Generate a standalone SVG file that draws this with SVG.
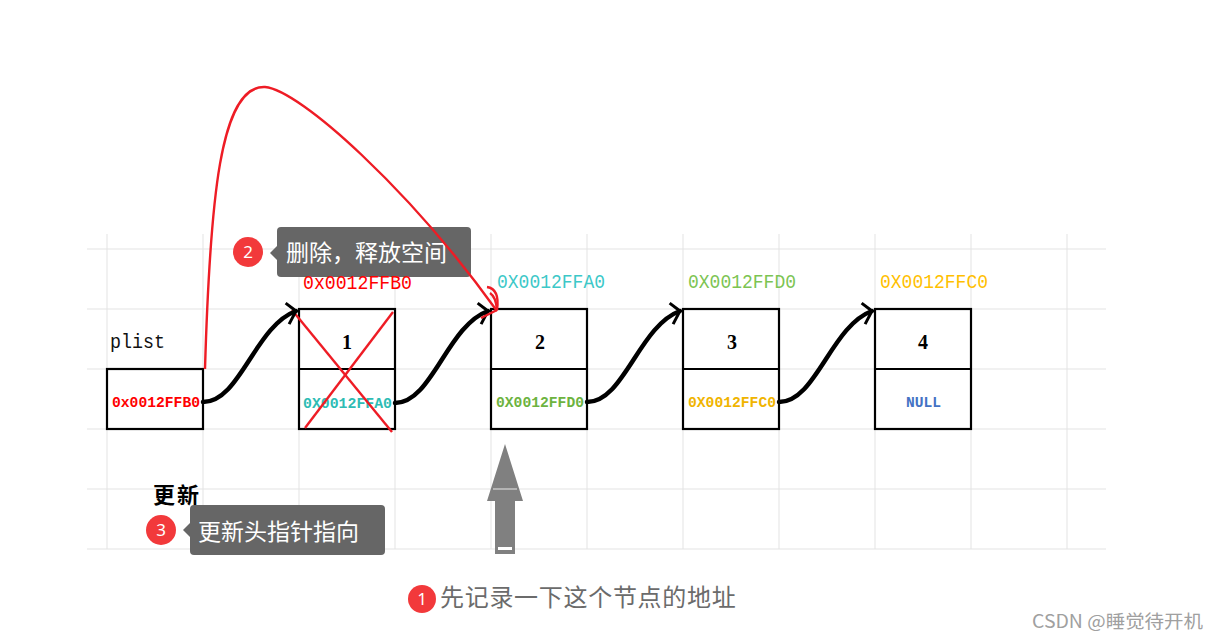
<svg xmlns="http://www.w3.org/2000/svg" width="1218" height="640" viewBox="0 0 1218 640">
<defs>
<style>
.grid line{stroke:#e3e3e3;stroke-width:1}
.box{fill:#fff;stroke:#000;stroke-width:2.2}
.div{stroke:#000;stroke-width:2.2}
.addr{font-family:"Liberation Mono",monospace;font-size:20px}
.inner{font-family:"Liberation Mono",monospace;font-size:15px;font-weight:bold}
.num{font-family:"Liberation Serif",serif;font-size:20px;font-weight:bold;fill:#000;text-anchor:middle}
.link{fill:none;stroke:#000;stroke-width:4.5;stroke-linecap:round}
.red{fill:none;stroke:#ee1c25;stroke-width:2.4}
.tip{fill:#666}
.tiptext{font-family:"Noto Sans CJK SC","Noto Sans",sans-serif;font-size:23px;fill:#fff}
.badge{fill:#f2393b}
.badgetext{font-family:"Noto Sans","Liberation Sans",sans-serif;font-size:17px;fill:#fff;text-anchor:middle}
</style>
<marker id="chev" markerUnits="userSpaceOnUse" markerWidth="30" markerHeight="30" refX="0" refY="0" viewBox="-15 -15 30 30" orient="auto" overflow="visible">
<path d="M-7,-11 L0,0 L-11,10" fill="none" stroke="#000" stroke-width="3"/>
</marker>
</defs>
<rect width="1218" height="640" fill="#fff"/>
<g class="grid" id="grid">
<line x1="87" y1="249" x2="1106" y2="249"/>
<line x1="87" y1="309" x2="1106" y2="309"/>
<line x1="87" y1="369" x2="1106" y2="369"/>
<line x1="87" y1="429" x2="1106" y2="429"/>
<line x1="87" y1="489" x2="1106" y2="489"/>
<line x1="87" y1="549" x2="1106" y2="549"/>
<line x1="107" y1="234" x2="107" y2="549"/>
<line x1="203" y1="234" x2="203" y2="549"/>
<line x1="299" y1="234" x2="299" y2="549"/>
<line x1="395" y1="234" x2="395" y2="549"/>
<line x1="491" y1="234" x2="491" y2="549"/>
<line x1="587" y1="234" x2="587" y2="549"/>
<line x1="683" y1="234" x2="683" y2="549"/>
<line x1="779" y1="234" x2="779" y2="549"/>
<line x1="875" y1="234" x2="875" y2="549"/>
<line x1="971" y1="234" x2="971" y2="549"/>
<line x1="1067" y1="234" x2="1067" y2="549"/>
</g>
<g id="tip2">
<rect x="277" y="227" width="194" height="50" rx="4" class="tip"/>
<path d="M270,253 L277,246 L277,260 Z" class="tip"/>
<text x="286" y="261" class="tiptext">删除，释放空间</text>
<circle cx="248" cy="252" r="15" class="badge"/>
<text x="248" y="258" class="badgetext">2</text>
</g>
<g id="plist">
<text x="110" y="348" class="addr" fill="#111" textLength="55" lengthAdjust="spacingAndGlyphs">plist</text>
<rect x="107" y="369" width="96" height="60" class="box"/>
<text x="112" y="407" class="inner" fill="#f00" textLength="88" lengthAdjust="spacingAndGlyphs">0x0012FFB0</text>
</g>
<g id="node1">
<text x="303" y="289" class="addr" fill="#f00" textLength="109" lengthAdjust="spacingAndGlyphs">0x0012FFB0</text>
<rect x="299" y="309" width="96" height="120" class="box"/>
<line x1="299" y1="369" x2="395" y2="369" class="div"/>
<text x="347" y="349" class="num">1</text>
<text x="303" y="408" class="inner" fill="#2ebcb4" textLength="89" lengthAdjust="spacingAndGlyphs">0X0012FFA0</text>
<line x1="292" y1="310" x2="392" y2="432" class="red"/>
<line x1="393" y1="312" x2="305" y2="428" class="red"/>
</g>
<g id="node2">
<text x="497" y="288" class="addr" fill="#3cc8c8" textLength="108" lengthAdjust="spacingAndGlyphs">0X0012FFA0</text>
<rect x="491" y="309" width="96" height="120" class="box"/>
<line x1="491" y1="369" x2="587" y2="369" class="div"/>
<text x="540" y="349" class="num">2</text>
<text x="496" y="407" class="inner" fill="#6db33f" textLength="88" lengthAdjust="spacingAndGlyphs">0X0012FFD0</text>
</g>
<g id="node3">
<text x="688" y="288" class="addr" fill="#7cc452" textLength="108" lengthAdjust="spacingAndGlyphs">0X0012FFD0</text>
<rect x="683" y="309" width="96" height="120" class="box"/>
<line x1="683" y1="369" x2="779" y2="369" class="div"/>
<text x="732" y="349" class="num">3</text>
<text x="688" y="407" class="inner" fill="#f0b400" textLength="88" lengthAdjust="spacingAndGlyphs">0X0012FFC0</text>
</g>
<g id="node4">
<text x="880" y="288" class="addr" fill="#ffc000" textLength="108" lengthAdjust="spacingAndGlyphs">0X0012FFC0</text>
<rect x="875" y="309" width="96" height="120" class="box"/>
<line x1="875" y1="369" x2="971" y2="369" class="div"/>
<text x="923" y="349" class="num">4</text>
<text x="906" y="407" class="inner" fill="#4472c4" textLength="35" lengthAdjust="spacingAndGlyphs">NULL</text>
</g>
<g id="connectors">
<path class="link" d="M203,402 C240,402 255,326 296,311" marker-end="url(#chev)"/>
<path class="link" d="M395,403 C432,403 447,326 488,311" marker-end="url(#chev)"/>
<path class="link" d="M587,402 C624,402 639,326 680,311" marker-end="url(#chev)"/>
<path class="link" d="M779,402 C816,402 831,326 872,311" marker-end="url(#chev)"/>
<path class="red" d="M205,369 C210,200 220,85 265,87 C300,90 410,190 497,311"/>
<path class="red" d="M490,293 Q496,297 497,310"/>
<path class="red" d="M487,287 Q500,289 497,310"/>
<path class="red" d="M481,318 L497,310"/>
</g>
<g id="update">
<text x="153" y="503" font-family="'Liberation Serif','Noto Sans CJK SC',serif" font-size="22" font-weight="bold" letter-spacing="2" fill="#000">更新</text>
</g>
<g id="tip3">
<rect x="190" y="505" width="195" height="50" rx="4" class="tip"/>
<path d="M183,530 L190,523 L190,537 Z" class="tip"/>
<text x="198" y="540" class="tiptext">更新头指针指向</text>
<circle cx="161" cy="530" r="15" class="badge"/>
<text x="161" y="536" class="badgetext">3</text>
</g>
<g id="uparrow">
<path d="M505,444 L523,501 L515,501 L515,554 L495,554 L495,501 L487,501 Z" fill="#808080"/>
<line x1="493" y1="489" x2="517" y2="489" stroke="#e8e8e8" stroke-width="1"/>
<rect x="498" y="547" width="14" height="3" fill="#fff"/>
</g>
<g id="note1">
<circle cx="422" cy="599" r="14" class="badge"/>
<text x="422" y="605" class="badgetext">1</text>
<text x="440" y="606" font-family="'Liberation Serif','Noto Sans CJK SC',serif" font-size="24" letter-spacing="0.7" fill="#6b6b6b">先记录一下这个节点的地址</text>
</g>
<text x="1032" y="628" font-family="'Noto Sans CJK SC','Noto Sans',sans-serif" font-size="18" fill="#a0a0a0" textLength="171" lengthAdjust="spacingAndGlyphs">CSDN @睡觉待开机</text>
</svg>
